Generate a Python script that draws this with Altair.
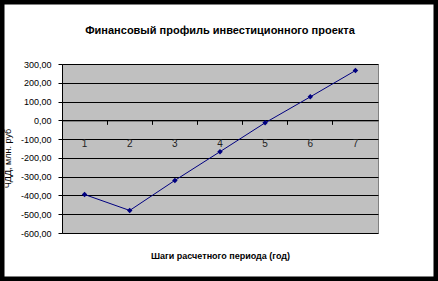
import altair as alt
import pandas as pd

steps = ["1", "2", "3", "4", "5", "6", "7"]
values = [-395, -480, -320, -167, -13, 125, 265]
y_ticks = [-600, -500, -400, -300, -200, -100, 0, 100, 200, 300]

title_text = "Финансовый профиль инвестиционного проекта"
x_title = "Шаги расчетного периода (год)"
y_title = "ЧДД, млн. руб"

df = pd.DataFrame({"step": steps, "value": values})

W, H = 316, 169
ymin, ymax = -600, 300
zero_offset = -H * (0 - ymin) / (ymax - ymin)

FONT = "Liberation Sans, sans-serif"

label_expr = "replace(replace(format(datum.value, '.2f'), '.', ','), '\u2212', '-')"

x_enc = alt.X(
    "step:N",
    sort=steps,
    scale=alt.Scale(type="band", paddingInner=0, paddingOuter=0),
    axis=alt.Axis(
        orient="bottom",
        offset=zero_offset,
        bandPosition=0,
        labelAngle=0,
        labelPadding=14,
        labelBaseline="top",
        labelFont=FONT,
        labelFontSize=10,
        labelColor="#222222",
        tickSize=4,
        tickColor="black",
        domainColor="black",
        grid=False,
        title=x_title,
        titleFont=FONT,
        titleFontSize=9,
        titleFontWeight="bold",
        titleColor="black",
        titleX=W / 2,
        titleY=135,
        titleAlign="center",
        titleBaseline="middle",
    ),
)

y_enc = alt.Y(
    "value:Q",
    scale=alt.Scale(domain=[ymin, ymax], nice=False, zero=False),
    axis=alt.Axis(
        values=y_ticks,
        labelExpr=label_expr,
        labelFont=FONT,
        labelFontSize=9,
        labelColor="black",
        labelPadding=7,
        tickSize=4,
        tickColor="black",
        domainColor="black",
        grid=True,
        gridColor="black",
        gridWidth=1,
        gridOpacity=1,
        title=y_title,
        titleFont=FONT,
        titleFontSize=9,
        titleFontWeight="normal",
        titleColor="black",
        titleX=-50,
        titleY=94,
        titleAngle=-90,
        titleAlign="center",
        titleBaseline="bottom",
    ),
)

line = alt.Chart(df).mark_line(color="#000080", strokeWidth=1).encode(x=x_enc, y=y_enc)
pts = alt.Chart(df).mark_point(
    shape="diamond", filled=True, color="#000080", size=30, opacity=1
).encode(x=x_enc, y=y_enc)

border = alt.Chart(alt.Data(values=[{"a": 1}])).mark_rect(
    fillOpacity=0, stroke="black", strokeWidth=9
).encode(
    x=alt.value(-62), x2=alt.value(376), y=alt.value(-64), y2=alt.value(217)
)

chart = (
    alt.layer(line, pts, border)
    .properties(
        width=W,
        height=H,
        autosize=alt.AutoSizeParams(type="none"),
        padding={"left": 62, "top": 64, "right": 60, "bottom": 48},
        background="white",
        title=alt.TitleParams(
            title_text,
            font=FONT,
            fontSize=11,
            fontWeight="bold",
            color="black",
            anchor="middle",
            offset=-40,
        ),
    )
    .configure_view(fill="#C0C0C0", stroke="#808080", strokeWidth=1)
)

chart.save("out.html", embed_options={"renderer": "svg", "actions": False})
